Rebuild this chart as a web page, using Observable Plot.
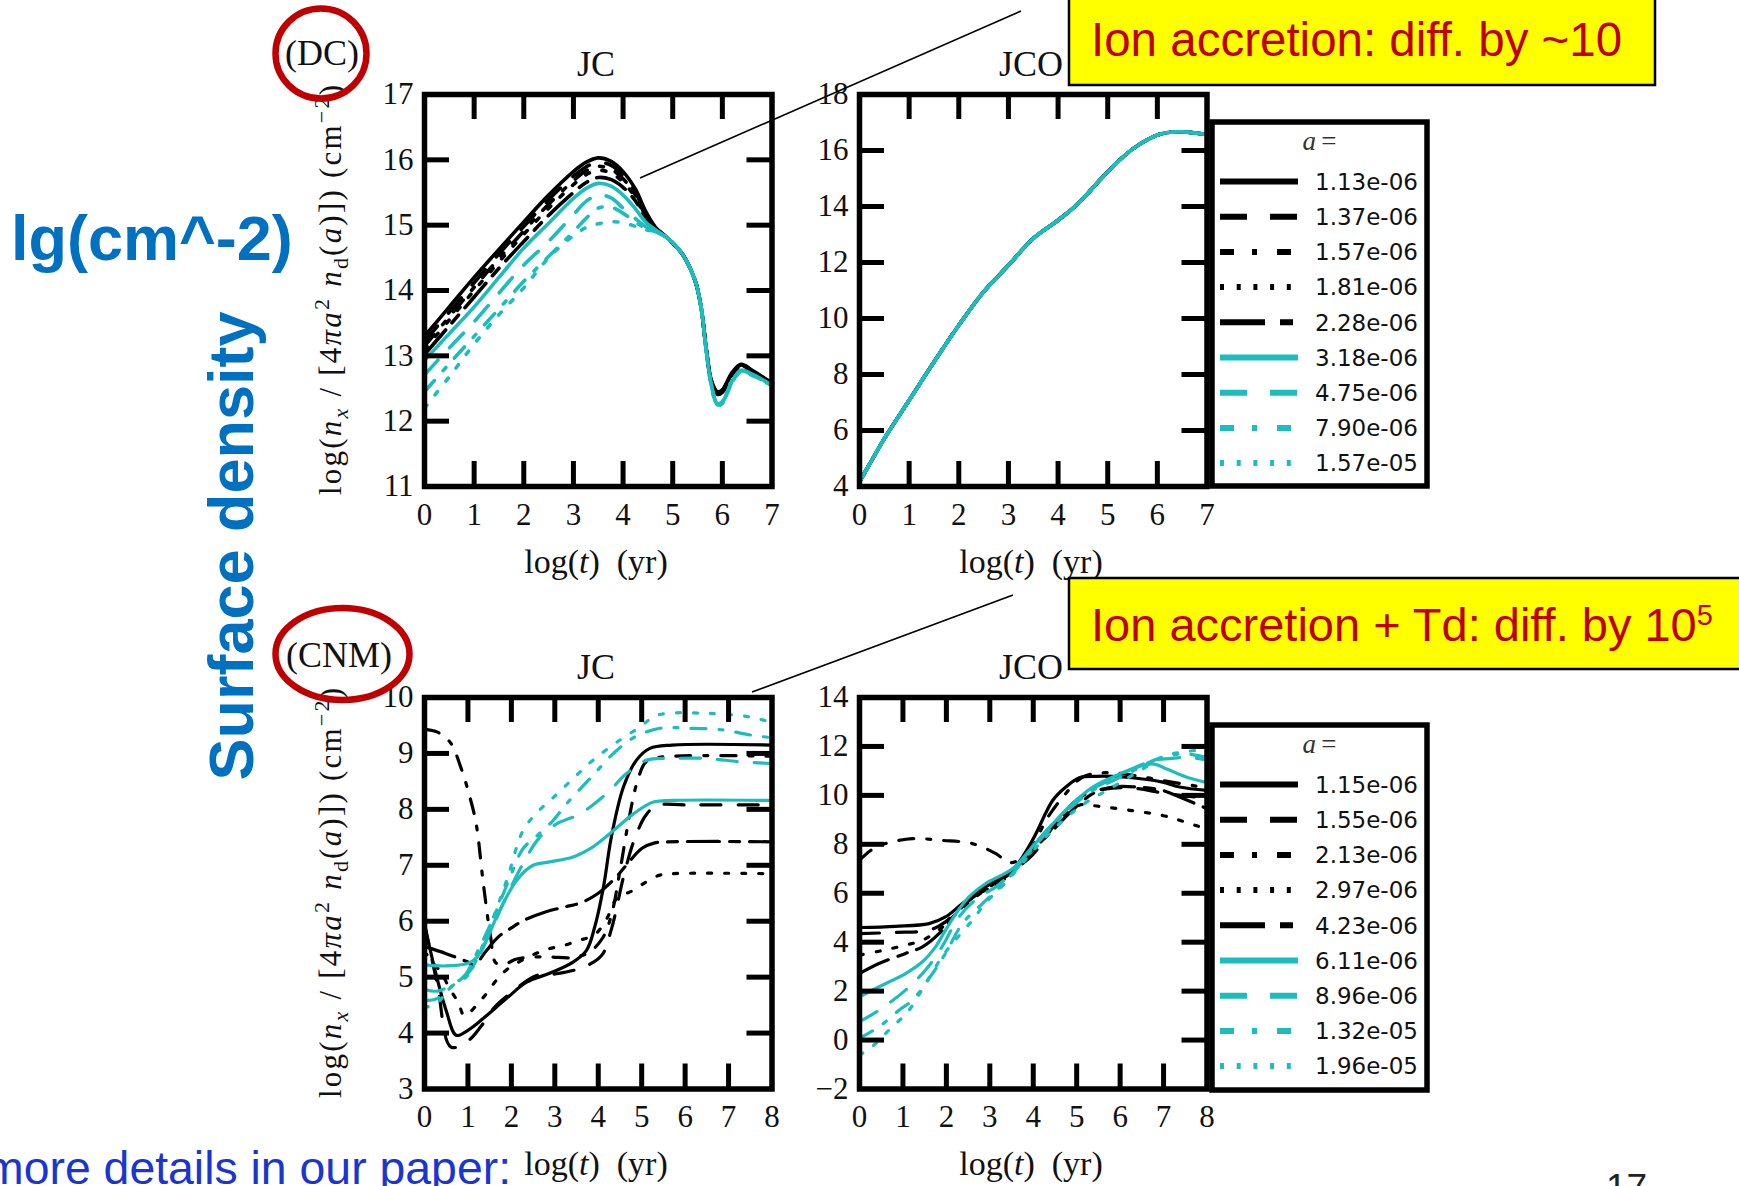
<!DOCTYPE html>
<html>
<head>
<meta charset="utf-8">
<script src="https://cdn.jsdelivr.net/npm/d3@7"></script>
<script src="https://cdn.jsdelivr.net/npm/@observablehq/plot@0.6"></script>
<style>
  body { margin: 0; background: #fff; }
  #page { position: relative; width: 1739px; height: 1186px; overflow: hidden; background: #fff; }
  #page > svg { position: absolute; }
</style>
</head>
<body>
<div id="page"></div>
<script>
// ---------------- grain sizes (legend entries) ----------------
const dcSizes  = ["1.13e-06", "1.37e-06", "1.57e-06", "1.81e-06", "2.28e-06", "3.18e-06", "4.75e-06", "7.90e-06", "1.57e-05"];
const cnmSizes = ["1.15e-06", "1.55e-06", "2.13e-06", "2.97e-06", "4.23e-06", "6.11e-06", "8.96e-06", "1.32e-05", "1.96e-05"];

// ---------------- DC, JC: log time grid and surface densities ----------------
const dcJcT = [0, 0.5, 1, 1.5, 2, 2.5, 3, 3.25, 3.5, 3.75, 4, 4.25, 4.45, 4.65, 4.9, 5.2, 5.45, 5.57, 5.67, 5.78, 5.9, 6.0, 6.2, 6.38, 6.6, 7];
const dcJc113 = [13.3, 13.75, 14.2, 14.63, 15.05, 15.46, 15.82, 15.96, 16.03, 15.98, 15.82, 15.55, 15.22, 14.97, 14.8, 14.55, 14.15, 13.75, 13.15, 12.62, 12.45, 12.48, 12.75, 12.87, 12.78, 12.58];
const dcJc137 = [13.22, 13.67, 14.12, 14.56, 14.98, 15.39, 15.75, 15.89, 15.96, 15.92, 15.76, 15.5, 15.18, 14.96, 14.8, 14.55, 14.15, 13.75, 13.15, 12.62, 12.44, 12.47, 12.74, 12.86, 12.77, 12.58];
const dcJc157 = [13.15, 13.6, 14.05, 14.49, 14.91, 15.32, 15.68, 15.83, 15.9, 15.86, 15.71, 15.46, 15.15, 14.95, 14.8, 14.55, 14.15, 13.75, 13.14, 12.61, 12.43, 12.46, 12.73, 12.85, 12.76, 12.57];
const dcJc181 = [13.1, 13.55, 14.0, 14.44, 14.86, 15.26, 15.62, 15.77, 15.84, 15.8, 15.66, 15.42, 15.13, 14.94, 14.8, 14.55, 14.15, 13.75, 13.14, 12.6, 12.42, 12.45, 12.72, 12.85, 12.76, 12.57];
const dcJc228 = [13.02, 13.46, 13.9, 14.34, 14.75, 15.15, 15.5, 15.65, 15.73, 15.7, 15.58, 15.37, 15.1, 14.93, 14.8, 14.55, 14.15, 13.75, 13.13, 12.6, 12.41, 12.44, 12.72, 12.84, 12.75, 12.56];
const dcJc318 = [12.93, 13.34, 13.75, 14.2, 14.65, 15.03, 15.41, 15.56, 15.64, 15.6, 15.46, 15.25, 15.05, 14.93, 14.8, 14.55, 14.15, 13.75, 13.12, 12.55, 12.27, 12.3, 12.62, 12.78, 12.72, 12.55];
const dcJc475 = [12.71, 13.12, 13.52, 13.96, 14.39, 14.75, 15.16, 15.36, 15.46, 15.42, 15.26, 15.1, 14.98, 14.91, 14.8, 14.55, 14.15, 13.75, 13.12, 12.55, 12.26, 12.29, 12.61, 12.77, 12.71, 12.54];
const dcJc790 = [12.45, 12.88, 13.3, 13.72, 14.14, 14.52, 14.9, 15.1, 15.26, 15.28, 15.18, 15.05, 14.95, 14.9, 14.8, 14.55, 14.15, 13.75, 13.11, 12.54, 12.25, 12.28, 12.6, 12.77, 12.71, 12.54];
const dcJc1570 = [12.2, 12.68, 13.18, 13.63, 14.04, 14.5, 14.84, 14.96, 15.02, 15.05, 15.04, 14.98, 14.93, 14.9, 14.8, 14.55, 14.15, 13.75, 13.11, 12.53, 12.24, 12.27, 12.6, 12.76, 12.7, 12.54];

// ---------------- DC, JCO: every grain size follows the same curve ----------------
const dcJcoT = [0, 0.23, 0.5, 1, 1.5, 2, 2.5, 3, 3.5, 4, 4.4, 5, 5.5, 6, 6.4, 7];
const dcJcoN = [4.17, 4.88, 5.71, 7.08, 8.45, 9.76, 10.95, 11.9, 12.86, 13.51, 14.1, 15.24, 16.05, 16.55, 16.67, 16.57];

// ---------------- CNM, JC: [log t, log N] ----------------
const cnmJc115 = [[0,5.95],[0.25,5.1],[0.5,4.4],[0.73,3.96],[1.0,4.05],[1.35,4.26],[1.89,4.62],[2.35,4.91],[2.88,5.07],[3.42,5.27],[3.73,5.48],[3.92,5.9],[4.12,6.61],[4.3,7.5],[4.58,8.4],[4.88,8.88],[5.19,9.09],[5.7,9.15],[8,9.15]];
const cnmJc155 = [[0,5.95],[0.3,4.85],[0.61,3.75],[1.0,3.86],[1.31,4.13],[1.61,4.46],[1.96,4.7],[2.58,5.03],[3.04,5.06],[3.66,5.18],[4.08,5.39],[4.3,5.85],[4.6,6.85],[4.85,7.5],[5.1,7.9],[5.35,8.07],[6,8.08],[8,8.08]];
const cnmJc213 = [[0,9.43],[0.3,9.38],[0.59,9.2],[0.85,8.72],[1.03,8.26],[1.19,7.74],[1.35,6.7],[1.52,5.73],[1.65,5.25],[1.9,5.25],[2.1,5.32],[2.5,5.36],[2.9,5.36],[3.4,5.35],[3.8,5.45],[4.1,5.7],[4.3,6.1],[4.5,6.9],[4.7,7.8],[4.9,8.5],[5.1,8.85],[5.4,8.93],[8,8.95]];
const cnmJc297 = [[0,5.45],[0.38,5.08],[0.57,4.81],[0.78,4.54],[0.92,4.31],[1.19,4.49],[1.42,4.7],[1.65,4.94],[1.92,5.15],[2.5,5.4],[2.88,5.51],[3.22,5.57],[3.57,5.66],[3.92,5.76],[4.2,6.05],[4.42,6.4],[4.8,6.55],[5.1,6.7],[5.4,6.82],[5.7,6.85],[8,6.85]];
const cnmJc423 = [[0,5.55],[0.5,5.42],[1.0,5.27],[1.15,5.22],[1.4,5.45],[1.7,5.72],[2.0,5.88],[2.3,6.02],[2.8,6.17],[3.2,6.25],[3.6,6.33],[4.0,6.5],[4.4,6.78],[4.7,7.05],[5.0,7.3],[5.3,7.4],[5.6,7.42],[8,7.42]];
const cnmJc611 = [[0,5.22],[0.5,5.2],[1.0,5.25],[1.2,5.35],[1.35,5.54],[1.73,6.19],[2.12,6.73],[2.5,7.0],[2.88,7.06],[3.42,7.15],[3.88,7.33],[4.35,7.62],[4.81,7.92],[5.27,8.13],[5.73,8.16],[8,8.16]];
const cnmJc896 = [[0,4.78],[0.3,4.75],[0.6,4.85],[0.9,5.0],[1.12,5.18],[1.5,5.78],[1.88,6.43],[2.27,7.03],[2.65,7.5],[3.04,7.74],[3.58,7.92],[4.19,8.28],[4.65,8.64],[5.12,8.88],[5.73,8.91],[6.5,8.91],[7.27,8.85],[8,8.82]];
const cnmJc1320 = [[0,4.58],[0.3,4.62],[0.65,4.85],[0.95,5.05],[1.12,5.3],[1.58,6.05],[1.95,6.75],[2.27,7.3],[2.55,7.5],[2.96,7.8],[3.27,8.1],[3.81,8.55],[4.35,9.0],[4.81,9.28],[5.42,9.45],[6.1,9.45],[6.88,9.42],[7.5,9.33],[8,9.28]];
const cnmJc1960 = [[0,4.45],[0.3,4.55],[0.65,4.85],[0.96,5.0],[1.19,5.3],[1.6,6.1],[1.9,6.75],[2.27,7.62],[2.6,7.95],[2.95,8.2],[3.42,8.55],[3.88,8.88],[4.5,9.24],[4.96,9.47],[5.35,9.68],[6.42,9.72],[7.5,9.65],[8,9.55]];

// ---------------- CNM, JCO: [log t, log N] ----------------
const cnmJco115 = [[0,4.6],[0.83,4.65],[1.6,4.76],[1.98,5.03],[2.37,5.58],[2.9,6.26],[3.52,6.94],[3.98,8.16],[4.45,9.8],[4.75,10.34],[5.06,10.72],[5.45,10.78],[6.06,10.75],[6.98,10.54],[7.37,10.34],[8,10.2]];
const cnmJco155 = [[0,4.35],[0.8,4.4],[1.6,4.49],[1.98,4.83],[2.37,5.5],[2.9,6.22],[3.52,6.9],[4.0,7.6],[4.29,8.3],[4.75,9.39],[5.22,10.07],[5.83,10.3],[6.37,10.28],[6.98,10.1],[7.5,9.98],[8,9.88]];
const cnmJco213 = [[0,7.35],[0.3,7.8],[0.6,8.03],[1.22,8.23],[1.9,8.16],[2.6,8.03],[3.14,7.62],[3.45,7.25],[3.8,7.5],[4.0,7.95],[4.3,9.0],[4.68,9.93],[5.14,10.75],[5.68,10.93],[6.37,10.8],[7.0,10.6],[7.68,10.4],[8,10.3]];
const cnmJco297 = [[0,3.47],[0.5,3.65],[1.06,3.88],[1.45,4.08],[1.9,4.6],[2.37,5.4],[2.9,6.15],[3.52,6.88],[3.98,7.85],[4.45,8.75],[5.06,9.6],[5.52,9.55],[6.22,9.39],[6.98,9.18],[7.37,8.98],[7.72,8.78],[8,8.64]];
const cnmJco423 = [[0,2.72],[0.45,3.13],[1.06,3.54],[1.45,3.81],[1.83,4.35],[2.22,5.17],[2.68,5.92],[3.14,6.33],[3.52,6.87],[3.98,7.76],[4.45,8.57],[4.9,9.39],[5.37,10.07],[5.83,10.34],[6.37,10.34],[6.98,10.2],[7.37,9.93],[8,9.46]];
const cnmJco611 = [[0,1.77],[0.45,2.18],[1.06,2.72],[1.45,3.2],[1.75,3.81],[1.98,4.49],[2.22,5.17],[2.52,5.85],[2.9,6.39],[3.52,7.0],[3.98,7.9],[4.45,8.84],[4.9,9.66],[5.37,10.34],[5.83,10.75],[6.29,11.09],[6.75,11.29],[7.06,11.09],[7.52,10.75],[8,10.52]];
const cnmJco896 = [[0,0.75],[0.45,1.22],[1.06,2.04],[1.52,2.86],[1.9,3.81],[2.29,5.03],[2.75,5.85],[3.14,6.26],[3.52,6.87],[3.98,7.9],[4.45,8.84],[4.9,9.62],[5.37,10.27],[5.83,10.68],[6.37,11.16],[6.83,11.45],[7.14,11.5],[7.52,11.55],[8,11.45]];
const cnmJco1320 = [[0,0.07],[0.45,0.54],[0.91,1.22],[1.22,1.63],[1.68,2.72],[1.98,3.54],[2.37,4.76],[2.83,5.58],[3.2,6.2],[3.52,6.8],[3.98,7.8],[4.45,8.75],[4.9,9.55],[5.37,10.2],[5.83,10.6],[6.3,11.0],[6.6,11.29],[6.98,11.56],[7.45,11.7],[8,11.55]];
const cnmJco1960 = [[0,-0.61],[0.29,-0.27],[0.68,0.41],[1.14,1.22],[1.52,2.31],[1.9,3.4],[2.14,3.95],[2.6,4.9],[2.9,5.6],[3.29,6.3],[3.52,6.75],[3.98,7.7],[4.29,8.3],[5.06,9.52],[5.83,10.34],[6.6,11.16],[7.06,11.63],[7.45,11.77],[7.83,11.86],[8,11.9]];

// ---------------- axis ticks ----------------
const ticks0to7 = [0, 1, 2, 3, 4, 5, 6, 7];
const ticks0to8 = [0, 1, 2, 3, 4, 5, 6, 7, 8];
const dcJcTicks = [11, 12, 13, 14, 15, 16, 17];
const dcJcoTicks = [4, 6, 8, 10, 12, 14, 16, 18];
const cnmJcTicks = [3, 4, 5, 6, 7, 8, 9, 10];
const cnmJcoTicks = [-2, 0, 2, 4, 6, 8, 10, 12, 14];

// ---------------- styles ----------------
const BLACK = "#000000";
const CYAN = "#1dbdbd";
const RED = "#c00000";
const SERIF = "'Liberation Serif', 'DejaVu Serif', serif";
const SANS = "'Liberation Sans', Arial, sans-serif";
const lineStyles = [
  {color: BLACK, dash: null,            legendDash: null},
  {color: BLACK, dash: "20,17",         legendDash: "27,23"},
  {color: BLACK, dash: "15,13,4,13",    legendDash: "14,18,5,20"},
  {color: BLACK, dash: "4,13",          legendDash: "4,12.7"},
  {color: BLACK, dash: "32,10,10,10",   legendDash: "45,15,13,15"},
  {color: CYAN,  dash: null,            legendDash: null},
  {color: CYAN,  dash: "20,17",         legendDash: "27,23"},
  {color: CYAN,  dash: "15,13,4,13",    legendDash: "14,18,5,20"},
  {color: CYAN,  dash: "4,13",          legendDash: "4,12.7"}
];

const zip = (t, v) => t.map((d, i) => [d, v[i]]);
const dcJcSeries = [dcJc113, dcJc137, dcJc157, dcJc181, dcJc228, dcJc318, dcJc475, dcJc790, dcJc1570].map(v => zip(dcJcT, v));
const dcJcoSeries = dcSizes.map(() => zip(dcJcoT, dcJcoN));
const cnmJcSeries = [cnmJc115, cnmJc155, cnmJc213, cnmJc297, cnmJc423, cnmJc611, cnmJc896, cnmJc1320, cnmJc1960];
const cnmJcoSeries = [cnmJco115, cnmJco155, cnmJco213, cnmJco297, cnmJco423, cnmJco611, cnmJco896, cnmJco1320, cnmJco1960];

const page = document.getElementById("page");
const fmt = d => (d < 0 ? "\u2212" + (-d) : String(d));

// One panel: frame [left, top, right, bottom] in page pixels
function panel({frame, xDomain, yDomain, xTicks, yTicks, series, lineWidth}) {
  const [fx0, fy0, fx1, fy1] = frame;
  const ml = 80, mr = 20, mt = 24, mb = 56;
  const fw = fx1 - fx0, fh = fy1 - fy0;
  const tickLen = 25;
  const innerX = xTicks.filter(t => t > xDomain[0] && t < xDomain[1]);
  const innerY = yTicks.filter(t => t > yDomain[0] && t < yDomain[1]);
  const svg = Plot.plot({
    width: fw + ml + mr,
    height: fh + mt + mb,
    marginLeft: ml, marginRight: mr, marginTop: mt, marginBottom: mb,
    x: {domain: xDomain},
    y: {domain: yDomain},
    style: {fontFamily: SERIF, fontSize: "31px", color: "#111", background: "none", overflow: "visible"},
    marks: [
      ...series.map((pts, i) => Plot.line(pts, {
        x: d => d[0], y: d => d[1],
        stroke: lineStyles[i].color,
        strokeWidth: lineWidth,
        strokeDasharray: lineStyles[i].dash || undefined,
        strokeLinejoin: "round",
        curve: "catmull-rom",
        clip: true
      })),
      Plot.tickX(innerX, {x: d => d, stroke: BLACK, strokeWidth: 5, insetTop: fh - tickLen}),
      Plot.tickX(innerX, {x: d => d, stroke: BLACK, strokeWidth: 5, insetBottom: fh - tickLen}),
      Plot.tickY(innerY, {y: d => d, stroke: BLACK, strokeWidth: 5, insetRight: fw - tickLen}),
      Plot.tickY(innerY, {y: d => d, stroke: BLACK, strokeWidth: 5, insetLeft: fw - tickLen}),
      Plot.frame({stroke: BLACK, strokeWidth: 5.5}),
      Plot.axisX(xTicks, {tickSize: 0, tickPadding: 16, label: null, tickFormat: fmt}),
      Plot.axisY(yTicks, {anchor: "left", tickSize: 0, tickPadding: 11, label: null, tickFormat: fmt})
    ]
  });
  svg.style.left = (fx0 - ml) + "px";
  svg.style.top = (fy0 - mt) + "px";
  page.appendChild(svg);
}

panel({frame: [423.5, 94, 771, 486], xDomain: [0, 7], yDomain: [11, 17], xTicks: ticks0to7, yTicks: dcJcTicks, series: dcJcSeries, lineWidth: 3.6});
panel({frame: [858.5, 94, 1206, 486], xDomain: [0, 7], yDomain: [4, 18], xTicks: ticks0to7, yTicks: dcJcoTicks, series: dcJcoSeries, lineWidth: 3.6});
panel({frame: [423.5, 697, 771, 1088.5], xDomain: [0, 8], yDomain: [3, 10], xTicks: ticks0to8, yTicks: cnmJcTicks, series: cnmJcSeries, lineWidth: 3.2});
panel({frame: [858.5, 697, 1206, 1088.5], xDomain: [0, 8], yDomain: [-2, 14], xTicks: ticks0to8, yTicks: cnmJcoTicks, series: cnmJcoSeries, lineWidth: 3.2});

// ---------------- annotations layer ----------------
const ov = d3.select(page).append("svg")
  .attr("width", 1739).attr("height", 1186)
  .style("left", "0px").style("top", "0px")
  .style("pointer-events", "none");

// panel titles
const titles = [["JC", 596, 76], ["JCO", 1031, 76], ["JC", 596, 679], ["JCO", 1031, 679]];
ov.selectAll("text.title").data(titles).join("text")
  .attr("class", "title")
  .attr("x", d => d[1]).attr("y", d => d[2])
  .attr("text-anchor", "middle")
  .attr("font-family", SERIF).attr("font-size", 36).attr("fill", "#111")
  .text(d => d[0]);

// x-axis labels
const xLabelPos = [[596, 573], [1031, 573], [596, 1175], [1031, 1175]];
xLabelPos.forEach(([x, y]) => {
  ov.append("text")
    .attr("x", x).attr("y", y)
    .attr("text-anchor", "middle")
    .attr("font-family", SERIF).attr("font-size", 34).attr("fill", "#111")
    .html('log(<tspan font-style="italic">t</tspan>)\u2002(yr)');
});

// y-axis labels
const yLabelHtml =
  'log(<tspan font-style="italic">n</tspan>' +
  '<tspan font-style="italic" font-size="22" dy="7">x</tspan>' +
  '<tspan dy="-7"> / [4</tspan><tspan font-style="italic">πa</tspan>' +
  '<tspan font-size="22" dy="-12">2</tspan><tspan dy="12"> </tspan>' +
  '<tspan font-style="italic">n</tspan>' +
  '<tspan font-size="22" dy="7">d</tspan><tspan dy="-7">(</tspan>' +
  '<tspan font-style="italic">a</tspan>)]) (cm' +
  '<tspan font-size="22" dy="-12">\u22122</tspan><tspan dy="12">)</tspan>';
[[341, 290], [341, 893]].forEach(([x, y]) => {
  ov.append("text")
    .attr("transform", `translate(${x},${y}) rotate(-90)`)
    .attr("text-anchor", "middle")
    .attr("font-family", SERIF).attr("font-size", 31).attr("fill", "#111")
    .attr("textLength", 410).attr("lengthAdjust", "spacing")
    .html(yLabelHtml);
});

// legends
function legend(box, labels) {
  const [x0, y0, x1, y1] = box;
  const g = ov.append("g");
  g.append("rect")
    .attr("x", x0).attr("y", y0).attr("width", x1 - x0).attr("height", y1 - y0)
    .attr("fill", "#fff").attr("stroke", BLACK).attr("stroke-width", 5.5);
  g.append("text")
    .attr("x", (x0 + x1) / 2).attr("y", y0 + 28)
    .attr("text-anchor", "middle")
    .attr("font-family", SERIF).attr("font-size", 27).attr("fill", "#333")
    .html('<tspan font-style="italic">a</tspan>\u2009=');
  labels.forEach((lab, i) => {
    const y = y0 + 59.5 + i * 35.2;
    const st = lineStyles[i];
    g.append("line")
      .attr("x1", x0 + 8).attr("x2", x0 + 86).attr("y1", y).attr("y2", y)
      .attr("stroke", st.color).attr("stroke-width", 6)
      .attr("stroke-dasharray", st.legendDash || null);
    g.append("text")
      .attr("x", x0 + 103).attr("y", y).attr("dy", "0.36em")
      .attr("font-family", "'DejaVu Sans', sans-serif").attr("font-size", 23).attr("fill", "#111")
      .text(lab);
  });
}
legend([1212, 122, 1427, 486], dcSizes);
legend([1212, 725, 1427, 1090], cnmSizes);

// left-hand slide text
ov.append("text")
  .attr("x", 11).attr("y", 260)
  .attr("font-family", SANS).attr("font-weight", "bold").attr("font-size", 63).attr("fill", "#0070c0")
  .text("lg(cm^-2)");
ov.append("text")
  .attr("transform", "translate(253,546) rotate(-90)")
  .attr("text-anchor", "middle")
  .attr("font-family", SANS).attr("font-weight", "bold").attr("font-size", 63).attr("fill", "#0070c0")
  .text("Surface density");
ov.append("text")
  .attr("x", -15).attr("y", 1184)
  .attr("font-family", SANS).attr("font-size", 46.4).attr("fill", "#1a35d0")
  .text("more details in our paper:");
ov.append("text")
  .attr("x", 1606).attr("y", 1200)
  .attr("font-family", SANS).attr("font-size", 37).attr("fill", "#222")
  .text("17");

// callout lines
ov.append("line").attr("x1", 640).attr("y1", 178).attr("x2", 1021).attr("y2", 11)
  .attr("stroke", BLACK).attr("stroke-width", 1.6);
ov.append("line").attr("x1", 752).attr("y1", 692).attr("x2", 1013).attr("y2", 595)
  .attr("stroke", BLACK).attr("stroke-width", 1.6);

// highlighted notes
ov.append("rect").attr("x", 1069).attr("y", -5).attr("width", 586).attr("height", 90)
  .attr("fill", "#ffff00").attr("stroke", BLACK).attr("stroke-width", 2.5);
ov.append("text").attr("x", 1091).attr("y", 56)
  .attr("font-family", SANS).attr("font-size", 47.5).attr("fill", RED)
  .text("Ion accretion: diff. by ~10");
ov.append("rect").attr("x", 1069).attr("y", 578).attr("width", 700).attr("height", 91)
  .attr("fill", "#ffff00").attr("stroke", BLACK).attr("stroke-width", 2.5);
ov.append("text").attr("x", 1091).attr("y", 641)
  .attr("font-family", SANS).attr("font-size", 47).attr("fill", RED)
  .html('Ion accretion + Td: diff. by 10<tspan font-size="29" dy="-16">5</tspan>');

// cloud-type tags
ov.append("text").attr("x", 322).attr("y", 65).attr("text-anchor", "middle")
  .attr("font-family", SERIF).attr("font-size", 36).attr("fill", "#111").text("(DC)");
ov.append("ellipse").attr("cx", 321).attr("cy", 53.5).attr("rx", 45.5).attr("ry", 45)
  .attr("fill", "none").attr("stroke", RED).attr("stroke-width", 6.5);
ov.append("text").attr("x", 339).attr("y", 667).attr("text-anchor", "middle")
  .attr("font-family", SERIF).attr("font-size", 36).attr("fill", "#111").text("(CNM)");
ov.append("ellipse").attr("cx", 342.5).attr("cy", 654).attr("rx", 67).attr("ry", 46)
  .attr("fill", "none").attr("stroke", RED).attr("stroke-width", 6.5);
</script>
</body>
</html>
